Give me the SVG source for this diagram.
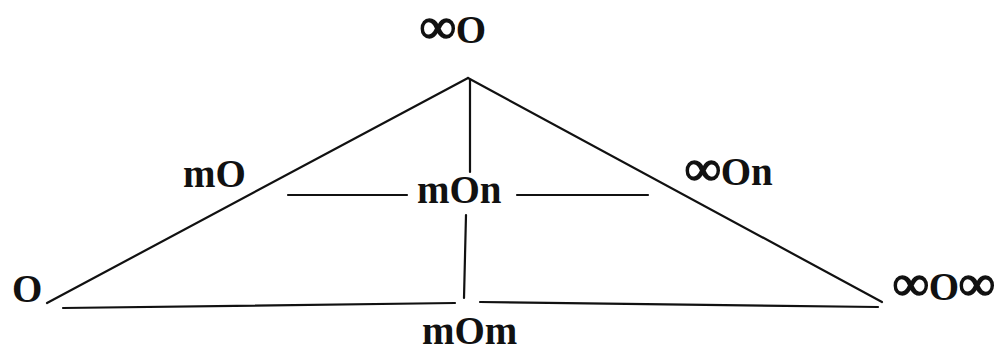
<svg xmlns="http://www.w3.org/2000/svg" width="1001" height="350" viewBox="0 0 1001 350">
<style>
.ln{stroke:#111;stroke-width:2.2;fill:none;stroke-linecap:round}
.lb{font-family:"Liberation Serif","DejaVu Serif",serif;font-weight:bold;font-size:39px;fill:#111}
.inf{font-size:50px;stroke:#111;stroke-width:1.6}
</style>
<rect width="1001" height="350" fill="#fff"/>
<g id="connectors">
<line class="ln" x1="468" y1="78" x2="47" y2="303"/>
<line class="ln" x1="468" y1="78" x2="882" y2="302"/>
<line class="ln" x1="470" y1="80" x2="470" y2="172"/>
<line class="ln" x1="466" y1="215" x2="464" y2="298"/>
<line class="ln" x1="288" y1="195" x2="407" y2="195"/>
<line class="ln" x1="517" y1="195" x2="648" y2="195"/>
<line class="ln" x1="63" y1="308" x2="455" y2="303"/>
<line class="ln" x1="480" y1="302" x2="878" y2="307"/>
</g>
<g id="n-top"><text class="lb" x="420" y="43"><tspan class="inf">∞</tspan>O</text></g>
<g id="n-mO"><text class="lb" x="183" y="187">mO</text></g>
<g id="n-mOn"><text class="lb" x="417" y="203">mOn</text></g>
<g id="n-infOn"><text class="lb" x="685" y="185"><tspan class="inf">∞</tspan>On</text></g>
<g id="n-O"><text class="lb" x="12" y="302">O</text></g>
<g id="n-infOinf"><text class="lb" x="893" y="300"><tspan class="inf">∞</tspan>O<tspan class="inf">∞</tspan></text></g>
<g id="n-mOm"><text class="lb" x="422" y="344">mOm</text></g>
</svg>
